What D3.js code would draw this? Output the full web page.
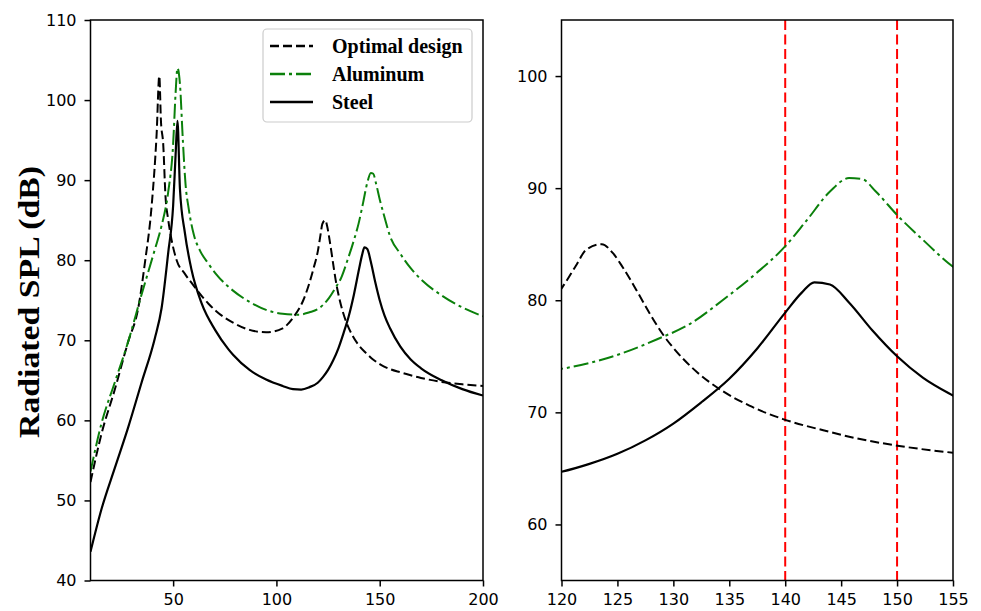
<!DOCTYPE html>
<html><head><meta charset="utf-8">
<script src="https://cdn.jsdelivr.net/npm/d3@7/dist/d3.min.js"></script>
<style>body{margin:0;background:#fff}</style>
</head><body>
<svg id="chart" width="981" height="611"></svg>
<script>
// ---- data (frequency in Hz, radiated SPL in dB) ----
const seriesNames = ["Optimal design", "Aluminum", "Steel"];

const optimalFreq = [10, 15.3, 21.7, 28.2, 33.1, 36.3, 39.6, 42, 43.3, 44.1, 45.2, 46.3, 47.6, 49.2, 51.7, 55.7, 60.6, 67, 71, 79, 87, 95, 103, 108, 113, 118, 120.1, 121.3, 122.2, 123.6, 124.6, 125.5, 126.7, 127.9, 129.1, 130.3, 132.1, 134.4, 136.8, 139.8, 143.4, 146.3, 150.2, 155, 160, 170, 180, 190, 200];
const optimalSPL  = [52.3, 58.3, 63.8, 69.8, 74.0, 79.6, 86.8, 95.7, 103.0, 97.4, 94.5, 88.0, 85.1, 82.6, 80.0, 78.3, 76.6, 74.6, 73.6, 72.2, 71.3, 71.0, 71.5, 72.8, 75.0, 79.0, 81.2, 83.1, 84.5, 85.0, 84.2, 82.9, 80.9, 78.8, 76.9, 75.4, 73.6, 71.9, 70.6, 69.4, 68.4, 67.7, 67.0, 66.4, 66.0, 65.3, 64.8, 64.5, 64.3];

const aluminumFreq = [10, 15.3, 21.7, 28.2, 34.7, 41.1, 44.4, 47.6, 50, 51.2, 52.1, 53.3, 54.7, 56, 57.5, 60, 63, 67, 71, 79, 87, 95, 103, 111, 116, 120.1, 122.5, 125.5, 128.5, 131.5, 134.4, 137.4, 139.8, 141.9, 144, 145.7, 146.9, 148.1, 150.1, 152.3, 155, 160, 165, 170, 180, 190, 200];
const aluminumSPL  = [53.6, 59.6, 64.7, 69.8, 75.7, 81.3, 84.3, 88.5, 94.5, 100.9, 104.0, 102.0, 95.0, 89.5, 86.5, 83.2, 81.2, 79.6, 78.2, 76.2, 74.8, 73.8, 73.3, 73.2, 73.5, 73.9, 74.4, 75.3, 76.5, 77.9, 80.0, 82.4, 84.6, 87.1, 89.7, 90.9, 90.8, 89.7, 87.5, 85.4, 83.0, 80.8, 79.0, 77.6, 75.6, 74.1, 73.0];

const steelFreq = [10, 15.3, 21.7, 28.2, 34.7, 41.1, 44.4, 47.6, 50, 51.2, 52.1, 53.3, 55.7, 58.9, 63.8, 70.3, 76.7, 79, 87, 95, 103, 108, 112, 116, 120, 122.5, 125, 127.5, 130, 132.5, 135, 137.5, 140, 141.5, 142.6, 144, 145.7, 147.8, 150, 152.3, 155, 160, 165, 170, 180, 190, 200];
const steelSPL  = [43.6, 48.9, 54.0, 59.1, 64.7, 70.2, 74.0, 80.9, 86.8, 93.2, 97.4, 88.9, 83.4, 78.8, 74.6, 71.3, 68.9, 68.2, 66.3, 65.1, 64.3, 63.9, 63.85, 64.15, 64.7, 65.4, 66.3, 67.5, 69.0, 70.9, 73.0, 75.7, 78.9, 80.7, 81.6, 81.4, 79.8, 77.3, 75.0, 73.1, 71.5, 69.2, 67.6, 66.5, 65.0, 63.9, 63.1];

const leftXTicks  = [50, 100, 150, 200];
const leftYTicks  = [40, 50, 60, 70, 80, 90, 100, 110];
const rightXTicks = [120, 125, 130, 135, 140, 145, 150, 155];
const rightYTicks = [60, 70, 80, 90, 100];
const markerFreqs = [140, 150];

// ---- styles ----
const styles = [
  {color: "#000000", dash: "9,4", width: 2},
  {color: "#0b800b", dash: "15,4,3,4", width: 2},
  {color: "#000000", dash: null, width: 2.2}
];
const seriesData = [
  optimalFreq.map((f, i) => [f, optimalSPL[i]]),
  aluminumFreq.map((f, i) => [f, aluminumSPL[i]]),
  steelFreq.map((f, i) => [f, steelSPL[i]])
];

const svg = d3.select("#chart");
const tickFont = "DejaVu Sans, sans-serif";
const serif = "Liberation Serif, Times New Roman, serif";

function panel(cfg, id) {
  const x = d3.scaleLinear().domain(cfg.xDom).range([cfg.x0, cfg.x1]);
  const y = d3.scaleLinear().domain(cfg.yDom).range([cfg.y1, cfg.y0]);
  const g = svg.append("g");
  g.append("clipPath").attr("id", "clip" + id).append("rect")
    .attr("x", cfg.x0).attr("y", cfg.y0).attr("width", cfg.x1 - cfg.x0).attr("height", cfg.y1 - cfg.y0);

  const plot = g.append("g").attr("clip-path", `url(#clip${id})`);
  if (cfg.markers) {
    plot.selectAll("line.marker").data(cfg.markers).join("line")
      .attr("x1", d => x(d)).attr("x2", d => x(d))
      .attr("y1", cfg.y0).attr("y2", cfg.y1)
      .attr("stroke", "#ff0000").attr("stroke-width", 2).attr("stroke-dasharray", "10,4.5");
  }
  const line = d3.line().x(d => x(d[0])).y(d => y(d[1])).curve(d3.curveMonotoneX);
  seriesData.forEach((s, i) => {
    plot.append("path").datum(s).attr("d", line).attr("fill", "none")
      .attr("stroke", styles[i].color).attr("stroke-width", styles[i].width)
      .attr("stroke-dasharray", styles[i].dash).attr("stroke-linejoin", "round");
  });

  const xa = g.append("g").attr("transform", `translate(0,${cfg.y1})`)
    .call(d3.axisBottom(x).tickValues(cfg.xTicks).tickSize(6).tickPadding(7).tickFormat(d3.format("d")));
  const ya = g.append("g").attr("transform", `translate(${cfg.x0},0)`)
    .call(d3.axisLeft(y).tickValues(cfg.yTicks).tickSize(6).tickPadding(8).tickFormat(d3.format("d")));
  [xa, ya].forEach(a => {
    a.select(".domain").remove();
    a.selectAll(".tick line").attr("stroke", "#000").attr("stroke-width", 1.5);
    a.selectAll(".tick text").attr("fill", "#000").style("font-family", tickFont).style("font-size", "16px");
  });
  g.append("rect").attr("x", cfg.x0).attr("y", cfg.y0).attr("width", cfg.x1 - cfg.x0).attr("height", cfg.y1 - cfg.y0)
    .attr("fill", "none").attr("stroke", "#000").attr("stroke-width", 1.5);
  return {x, y, g};
}

panel({x0: 90.5, x1: 483, y0: 20, y1: 580.5, xDom: [10, 200], yDom: [40, 110], xTicks: leftXTicks, yTicks: leftYTicks}, "L");
panel({x0: 561.5, x1: 953, y0: 20, y1: 580.5, xDom: [120, 155], yDom: [55, 105], xTicks: rightXTicks, yTicks: rightYTicks, markers: markerFreqs}, "R");

// y-axis title
svg.append("text").attr("transform", "translate(39,302) rotate(-90)")
  .attr("text-anchor", "middle")
  .attr("textLength", 272).attr("lengthAdjust", "spacingAndGlyphs")
  .style("font-family", serif).style("font-weight", "bold").style("font-size", "30px")
  .text("Radiated SPL (dB)");

// legend
const lg = svg.append("g");
lg.append("rect").attr("x", 263).attr("y", 29).attr("width", 209).attr("height", 93).attr("rx", 4)
  .attr("fill", "#fff").attr("fill-opacity", 0.85).attr("stroke", "#cccccc").attr("stroke-width", 1.2);
const rowsY = [46, 74, 102];
seriesNames.forEach((name, i) => {
  lg.append("line").attr("x1", 270).attr("x2", 313).attr("y1", rowsY[i]).attr("y2", rowsY[i])
    .attr("stroke", styles[i].color).attr("stroke-width", styles[i].width + 0.3).attr("stroke-dasharray", styles[i].dash);
  lg.append("text").attr("x", 332).attr("y", rowsY[i]).attr("dy", "0.35em")
    .style("font-family", serif).style("font-weight", "bold").style("font-size", "20px")
    .text(name);
});
</script>
</body></html>
